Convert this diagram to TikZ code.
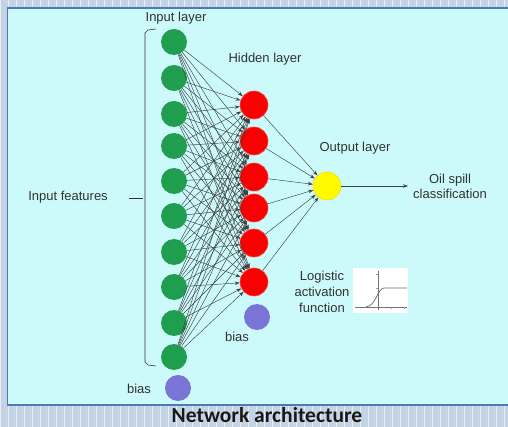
\documentclass[tikz,border=0pt]{standalone}
\usepackage{fontspec}
\setmainfont{Liberation Sans}
\newfontfamily\titlefont{Carlito}
\usetikzlibrary{arrows.meta}
\definecolor{bggrid}{RGB}{196,212,228}
\definecolor{panel}{RGB}{204,250,250}
\definecolor{panelline}{RGB}{74,122,184}
\definecolor{ingreen}{RGB}{32,158,80}
\definecolor{hidred}{RGB}{250,0,0}
\definecolor{outyellow}{RGB}{255,250,0}
\definecolor{biasblue}{RGB}{122,116,214}
\definecolor{txt}{RGB}{50,50,50}
\tikzset{
    unit/.style={circle, minimum size=26pt, inner sep=0pt},
    inunit/.style={unit, fill=ingreen},
    hidunit/.style={unit, minimum size=28pt, fill=hidred, draw=red!70!white, line width=0.6pt},
    outunit/.style={unit, minimum size=28pt, fill=outyellow, draw=yellow!80!orange, line width=0.6pt},
    biasunit/.style={unit, fill=biasblue},
    lbl/.style={text=txt, font=\fontsize{13}{15}\selectfont, align=center},
    wire/.style={draw=black!75, line width=0.45pt, -{Stealth[length=5pt,width=3.5pt]}}
}
\begin{document}
\begin{tikzpicture}[x=1pt, y=-1pt]
    \useasboundingbox (0, 0) rectangle (508, 427);
    %背景网格与面板
    \fill[bggrid] (0, 0) rectangle (508, 427);
    \draw[white!60!bggrid, line width=0.4pt] (0, 0) grid[step=8] (508, 427);
    \draw[panelline, line width=1.2pt, fill=panel] (7.5, 8) rectangle (512, 405);
    %输入层
    \foreach \i/\y in {1/42, 2/78, 3/114, 4/146, 5/181, 6/216, 7/252, 8/287, 9/323, 10/357}
        \node[inunit] (in\i) at (174, \y) {};
    \node[biasunit] (inb) at (178, 388) {};
    %隐藏层
    \foreach \j/\y in {1/105, 2/141, 3/177, 4/208, 5/243, 6/282}
        \node[hidunit] (hid\j) at (254, \y) {};
    \node[biasunit] (hidb) at (257, 317) {};
    %输出层
    \node[outunit] (out) at (327, 186) {};
    \coordinate (res) at (408, 186);
    %连线
    \foreach \i in {1, ..., 10}
        \foreach \j in {1, ..., 6}
            \draw[wire] (in\i) -- (hid\j);
    \foreach \j in {1, ..., 6}
        \draw[wire] (hid\j) -- (out);
    \draw[wire] (out) -- (res);
    %文字
    \node[lbl] (inlayer) at (176, 18) {Input layer};
    \node[lbl] (hidlayer) at (265, 59) {Hidden layer};
    \node[lbl] (outlayer) at (355, 148) {Output layer};
    \node[lbl, anchor=west, inner sep=1pt] (cls) at (res) [xshift=4pt] {Oil spill\\classification};
    \node[lbl] (feat) at (68, 197) {Input features};
    \node[lbl] (inbias) at (139, 389) {bias};
    \node[lbl] (hidbias) at (237, 337) {bias};
    \node[lbl, font=\fontsize{13}{16}\selectfont] (logi) at (322, 292) {Logistic\\activation\\function};
    %括号
    \draw[txt, line width=0.6pt] (156, 29) -- (148, 30) -- (145, 33) -- (145, 362) -- (148, 365) -- (156, 366);
    \draw[txt, line width=0.6pt] (129, 198) -- (143, 198);
    %激活函数小图
    \fill[white] (353, 268) rectangle (408, 313);
    \draw[black!55, line width=0.5pt] (355, 307) -- (407, 307) (378, 271) -- (378, 310);
    \draw[black!60, line width=0.7pt] (366, 307) .. controls (376, 306) and (377, 289) .. (384, 288) -- (407, 288);
    \draw[black!40, line width=0.4pt] (376, 274) -- (378, 274) (376, 288) -- (378, 288) (391, 307) -- (391, 309) (404, 307) -- (404, 309);
    %标题
    \node[font=\titlefont\bfseries\fontsize{21.5}{23}\selectfont, text=black!90, inner sep=1pt] (title) at (267, 415) {Network architecture};
\end{tikzpicture}
\end{document}
